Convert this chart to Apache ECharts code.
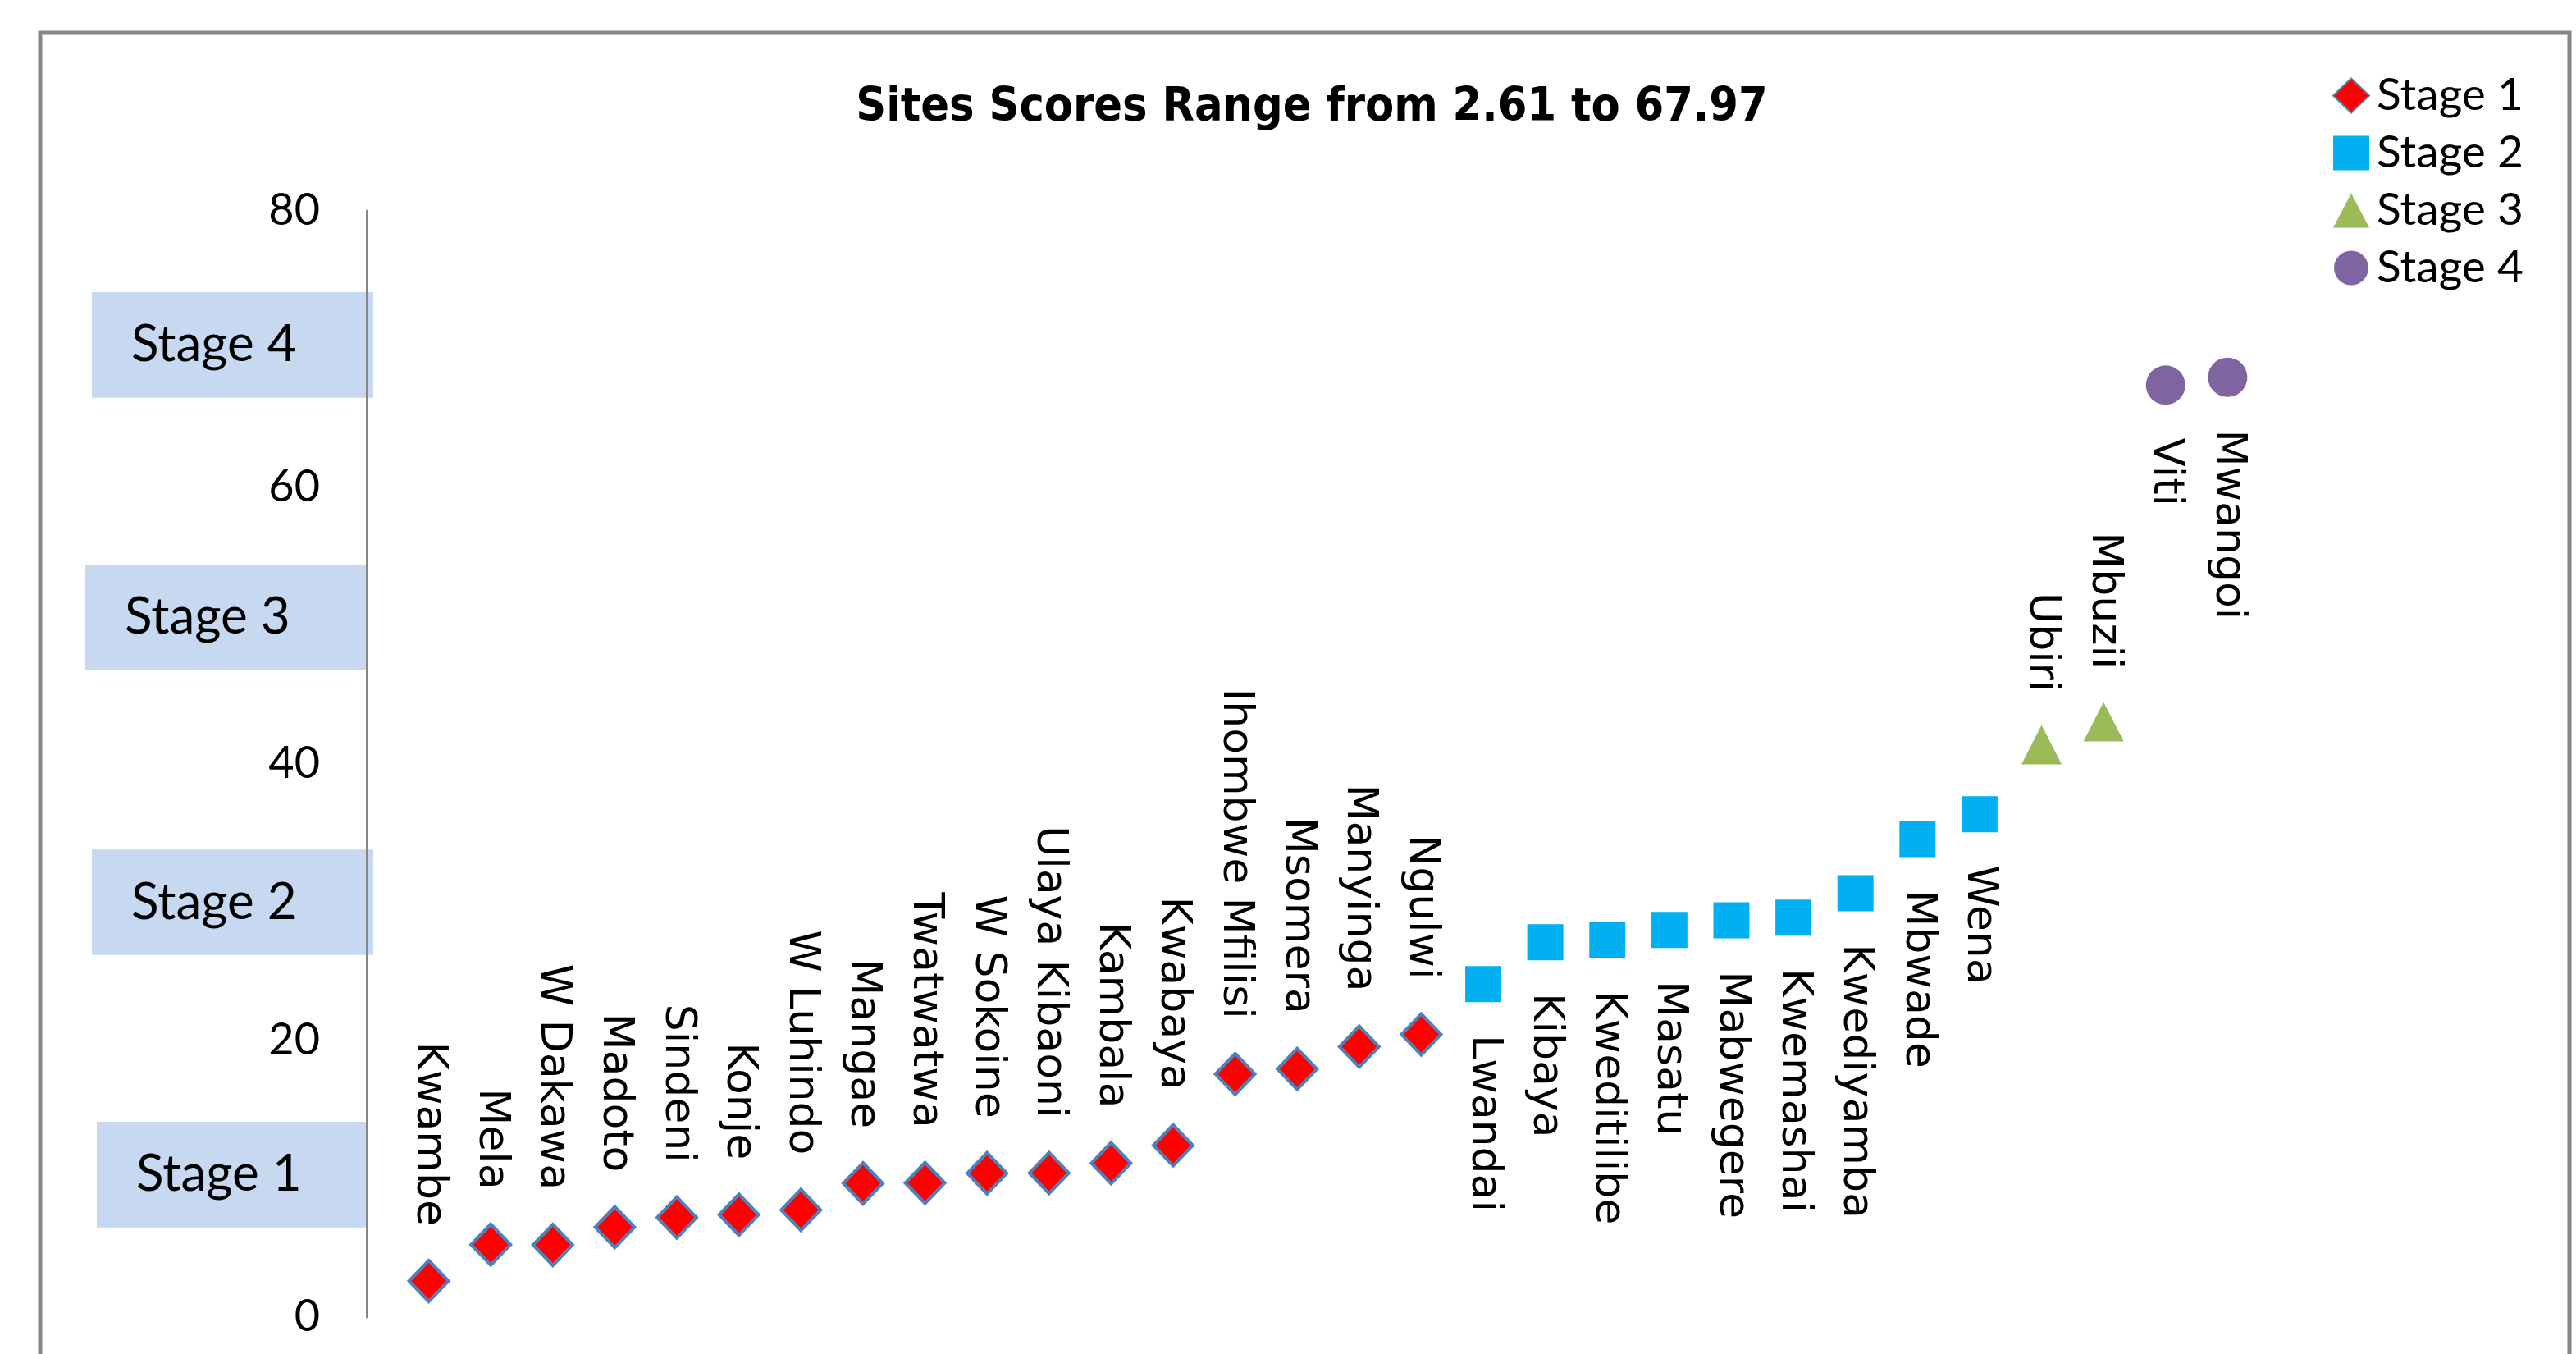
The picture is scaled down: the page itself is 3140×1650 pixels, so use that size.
<!DOCTYPE html>
<html>
<head>
<meta charset="utf-8">
<script src="https://cdn.jsdelivr.net/npm/echarts@6/dist/echarts.min.js"></script>
<style>html,body{margin:0;padding:0;background:#fff}#c{width:3140px;height:1650px}</style>
</head>
<body>
<div id="c"></div>
<script>
// ---- data ----
const sites = ['Kwambe','Mela','W Dakawa','Madoto','Sindeni','Konje','W Luhindo','Mangae','Twatwatwa','W Sokoine','Ulaya Kibaoni','Kambala','Kwabaya','Ihombwe Mfilisi','Msomera','Manyinga','Ngulwi','Lwandai','Kibaya','Kweditilibe','Masatu','Mabwegere','Kwemashai','Kwediyamba','Mbwade','Wena','Ubiri','Mbuzii','Viti','Mwangoi'];
const scores = [2.61,5.24,5.22,6.5,7.2,7.4,7.75,9.67,9.7,10.4,10.42,11.13,12.42,17.58,17.94,19.56,20.44,24.08,27.1,27.27,28.0,28.69,28.88,30.65,34.57,36.36,41.4,43.06,67.4,67.97];
const stageOfSite = [1,1,1,1,1,1,1,1,1,1,1,1,1,1,1,1,1,2,2,2,2,2,2,2,2,2,3,3,4,4];
const stageNames = ['Stage 1','Stage 2','Stage 3','Stage 4'];
const yTicks = [0,20,40,60,80];
const stageBoxCenters = [10.3, 30.0, 50.6, 70.3];
const titleText = 'Sites Scores Range from 2.61 to 67.97';

// ---- styles ----
const stageStyle = [
  {symbol:'diamond', size:[48,50], item:{color:'#FF0000', borderColor:'#4F81BD', borderWidth:4, opacity:1}, pos:'top'},
  {symbol:'rect', size:[44,44], item:{color:'#00B0F0', opacity:1}, pos:'bottom'},
  {symbol:'triangle', size:[49,48], item:{color:'#9BBB59', opacity:1}, pos:'top'},
  {symbol:'circle', size:[48,48], item:{color:'#8064A2', opacity:1}, pos:'bottom'}
];
const boxX = [[118,447],[112,455],[104,447],[112,455]];

const chart = echarts.init(document.getElementById('c'), null, {renderer:'canvas'});

const series = stageNames.map((nm, si) => {
  const st = stageStyle[si];
  const data = [];
  sites.forEach((s, i) => {
    if (stageOfSite[i] === si + 1) data.push({name: s, value: [i + 1, scores[i]]});
  });
  return {
    type: 'scatter', name: nm, data: data,
    symbol: st.symbol, symbolSize: st.size, itemStyle: st.item,
    label: {
      show: true, formatter: '{b}', position: st.pos, distance: 40,
      rotate: -90, align: st.pos === 'top' ? 'right' : 'left', verticalAlign: 'middle',
      fontFamily: '"DejaVu Sans", sans-serif', fontSize: 52, color: '#000'
    },
    emphasis: {disabled: true}
  };
});

chart.setOption({
  animation: false,
  backgroundColor: '#fff',
  title: {
    text: titleText, left: 1594, top: 127, textAlign: 'center', textVerticalAlign: 'middle',
    textStyle: {fontFamily: '"Liberation Sans Narrow", "DejaVu Sans Condensed", sans-serif', fontWeight: 'bold', fontSize: 57, color: '#000'}
  },
  legend: {
    orient: 'vertical', left: 2838, top: 84, itemWidth: 44, itemHeight: 42, itemGap: 15,
    data: stageNames,
    textStyle: {fontFamily: 'Lato, sans-serif', fontSize: 55, color: '#000', padding: [0,0,0,4]}
  },
  grid: {left: 447, right: 349, top: 257, bottom: 45, containLabel: false},
  xAxis: {type: 'value', min: 0, max: 31, show: false},
  yAxis: {
    type: 'value', min: yTicks[0], max: yTicks[yTicks.length - 1], interval: 20, z: 5,
    axisLine: {show: true, lineStyle: {color: '#868686', width: 3}},
    axisTick: {show: false}, splitLine: {show: false},
    axisLabel: {margin: 57, fontFamily: 'Lato, sans-serif', fontSize: 54, color: '#000'}
  },
  series: series
});

const gfx = [{
  type: 'rect', z: 1, shape: {x: 49, y: 40, width: 3083, height: 1700},
  style: {fill: 'none', stroke: '#868686', lineWidth: 5}
}];
stageBoxCenters.forEach((c, i) => {
  const yTop = chart.convertToPixel({yAxisIndex: 0}, c + 3.82);
  const yBot = chart.convertToPixel({yAxisIndex: 0}, c - 3.82);
  gfx.push({
    type: 'rect', z: 0, shape: {x: boxX[i][0], y: yTop, width: boxX[i][1] - boxX[i][0], height: yBot - yTop},
    style: {fill: '#C6D9F1'}
  });
  gfx.push({
    type: 'text', z: 2, x: boxX[i][0] + 48, y: (yTop + yBot) / 2,
    style: {text: stageNames[i], fontFamily: 'Lato, sans-serif', fontSize: 62, fill: '#000', textVerticalAlign: 'middle', textAlign: 'left'}
  });
});
chart.setOption({graphic: gfx});
</script>
</body>
</html>
